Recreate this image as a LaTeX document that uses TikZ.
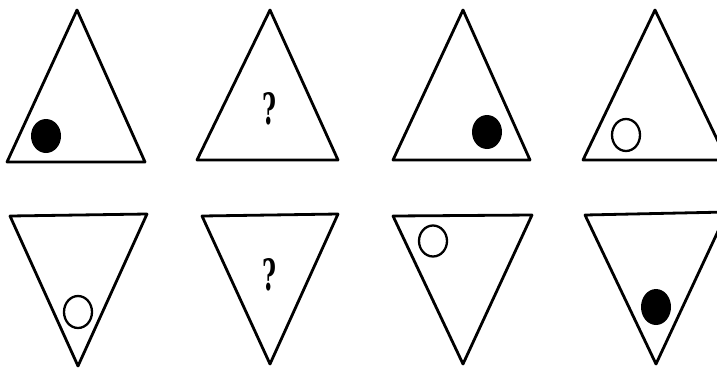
\documentclass[tikz,border=0pt]{standalone}
\usepackage{graphicx}
\usepackage{fontspec}
\newfontfamily\qfont{DejaVu Serif}
\begin{document}
\begin{tikzpicture}[x=1pt,y=-1pt,
  tri/.style={line width=2.8pt, line join=round},
  ring/.style={line width=2.3pt},
  qmark/.style={inner sep=0pt, font=\qfont\bfseries}]
\useasboundingbox (0,0) rectangle (717,368);
% top row
\draw[tri] (77,10) -- (145,162) -- (7,162) -- cycle;
\fill (46,136) ellipse [x radius=15, y radius=17];
\draw[tri] (270,10) -- (338,160) -- (197,160) -- cycle;
\node[qmark] (q1) at (269,109) {\resizebox{14pt}{32pt}{?}};
\draw[tri] (463,10) -- (530,160) -- (393,160) -- cycle;
\fill (487,132) ellipse [x radius=15, y radius=17];
\draw[tri] (655,10) -- (727,160) -- (583,160) -- cycle;
\draw[ring] (626,135) ellipse [x radius=14, y radius=16];
% bottom row
\draw[tri] (10,216) -- (147,214) -- (78,366) -- cycle;
\draw[ring] (78,312) ellipse [x radius=14, y radius=16];
\draw[tri] (202,216) -- (338,214) -- (270,364) -- cycle;
\node[qmark] (q2) at (269,275) {\resizebox{14pt}{32pt}{?}};
\draw[tri] (393,216) -- (532,215) -- (463,364) -- cycle;
\draw[ring] (433,241) ellipse [x radius=14, y radius=15.5];
\draw[tri] (585,215) -- (727,212) -- (656,364) -- cycle;
\fill (656,307) ellipse [x radius=15, y radius=18];
\end{tikzpicture}
\end{document}
